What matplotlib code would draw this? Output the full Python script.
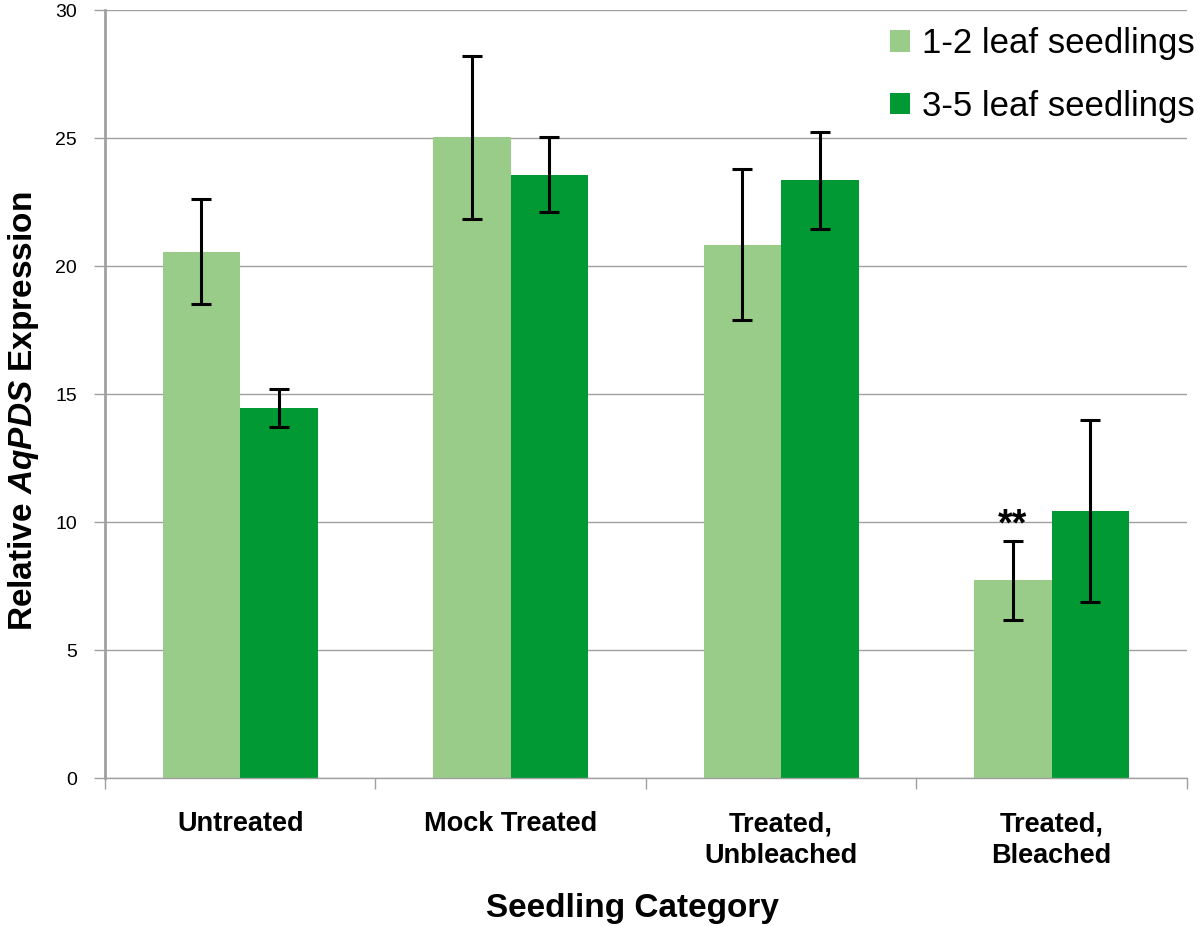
import numpy as np
import matplotlib.pyplot as plt

plt.rcParams['font.family'] = ['Liberation Sans', 'DejaVu Sans']
plt.rcParams['mathtext.fontset'] = 'custom'
plt.rcParams['mathtext.rm'] = 'Liberation Sans'
plt.rcParams['mathtext.it'] = 'Liberation Sans:italic'
plt.rcParams['mathtext.bf'] = 'Liberation Sans:bold'
plt.rcParams['mathtext.bfit'] = 'Liberation Sans:bold:italic'

categories = ['Untreated', 'Mock Treated', 'Treated,\nUnbleached', 'Treated,\nBleached']
young = [20.57, 25.03, 20.83, 7.73]
young_err = [2.05, 3.17, 2.95, 1.55]
old = [14.46, 23.58, 23.35, 10.42]
old_err = [0.75, 1.45, 1.9, 3.55]
series_names = ['1-2 leaf seedlings', '3-5 leaf seedlings']

light = '#99CC88'
dark = '#009933'
grid_grey = '#A0A0A0'

fig = plt.figure(figsize=(12, 9.26), dpi=100)
ax = fig.add_axes([0.0875, 0.1598, 0.9015, 0.8292])

x = np.arange(len(categories))
w = 0.287
ax.bar(x - w / 2, young, w, color=light, label=series_names[0], zorder=2)
ax.bar(x + w / 2, old, w, color=dark, label=series_names[1], zorder=2)
ax.errorbar(x - w / 2, young, yerr=young_err, fmt='none', ecolor='black',
            elinewidth=2.2, capsize=7.5, capthick=2.2, zorder=3)
ax.errorbar(x + w / 2, old, yerr=old_err, fmt='none', ecolor='black',
            elinewidth=2.2, capsize=7.5, capthick=2.2, zorder=3)

# significance mark over the bleached young seedlings
ax.text(x[3] - w / 2, young[3] + young_err[3] + 0.6, '**', ha='center',
        va='center', fontsize=27, fontweight='bold')

ax.set_xlim(-0.5, len(categories) - 0.5)
ax.set_ylim(0, 30)
ax.set_yticks(np.arange(0, 31, 5))
ax.yaxis.grid(True, color=grid_grey, linewidth=1, zorder=0)
ax.set_axisbelow(True)

ax.set_xticks(x)
ax.set_xticklabels(categories, fontsize=19.5, fontweight='bold', linespacing=1.3)
ax.set_xticks(np.arange(-0.5, len(categories)), minor=True)
ax.tick_params(axis='x', which='major', length=0, pad=24)
ax.tick_params(axis='x', which='minor', length=8, color=grid_grey, width=1)
ax.tick_params(axis='y', length=8, color=grid_grey, width=1, labelsize=14, pad=12)

for side in ['top', 'right']:
    ax.spines[side].set_visible(False)
ax.spines['left'].set_color(grid_grey)
ax.spines['left'].set_linewidth(2)
ax.spines['bottom'].set_color(grid_grey)
ax.spines['bottom'].set_linewidth(1)

fig.text(0.527, 1 - 909 / 926, 'Seedling Category', ha='center', va='center',
         fontsize=24, fontweight='bold')
fig.text(24 / 1200, 1 - 411 / 926, r'Relative $\bfit{AqPDS}$ Expression',
         rotation=90, ha='center', va='center', fontsize=24, fontweight='bold')

leg = fig.legend(loc='upper right', bbox_to_anchor=(1.016, 0.997), frameon=False,
                 fontsize=25, handlelength=0.58, handleheight=0.58,
                 handletextpad=0.35, labelspacing=0.85, borderaxespad=0.3)

fig.savefig('out.png', dpi=100)
